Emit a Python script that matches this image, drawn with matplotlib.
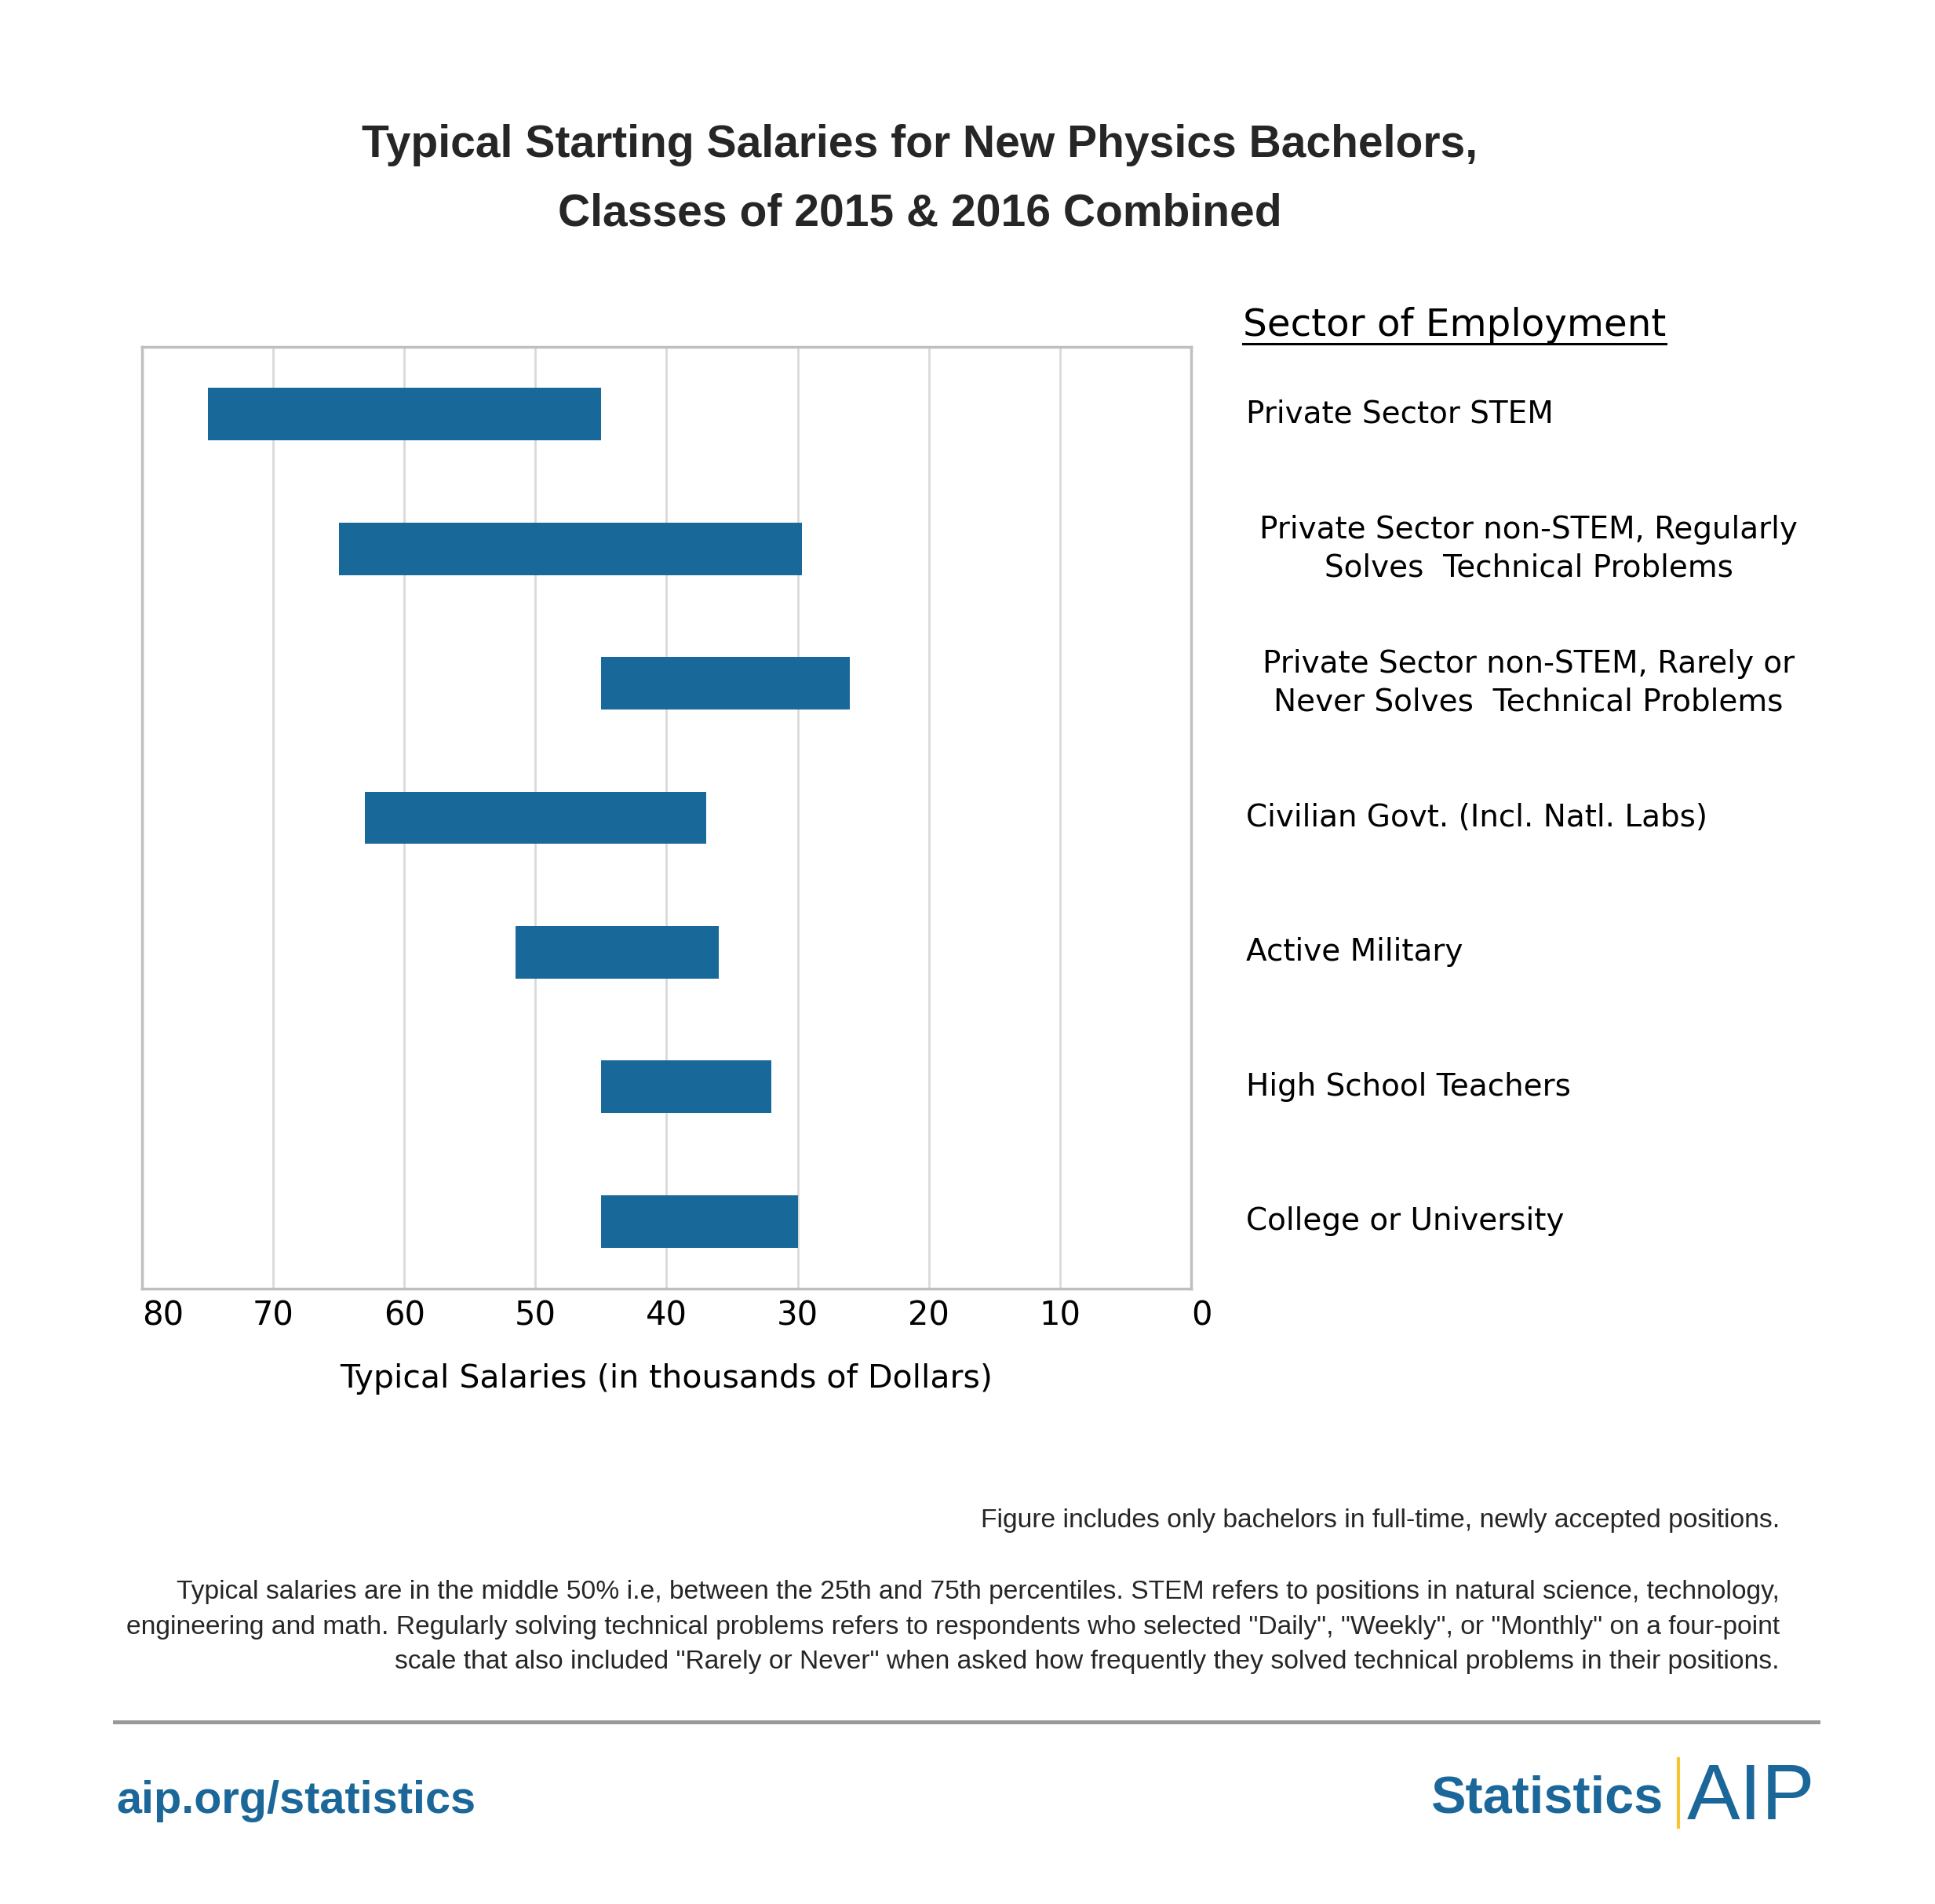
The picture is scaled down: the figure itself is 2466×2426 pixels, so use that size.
import matplotlib
matplotlib.use('Agg')
import matplotlib.pyplot as plt
from matplotlib.lines import Line2D
import matplotlib.transforms as mtransforms

W, H = 2466, 2426

# data: typical salary range (25th - 75th percentile), thousands of dollars
sectors = [
    'Private Sector STEM',
    'Private Sector non-STEM, Regularly\nSolves  Technical Problems',
    'Private Sector non-STEM, Rarely or\nNever Solves  Technical Problems',
    'Civilian Govt. (Incl. Natl. Labs)',
    'Active Military',
    'High School Teachers',
    'College or University',
]
low = [45, 29.7, 26, 37, 36, 32, 30]
high = [75, 65, 45, 63, 51.5, 45, 45]
x_ticks = [0, 10, 20, 30, 40, 50, 60, 70, 80]

footnotes = [
    'Figure includes only bachelors in full-time, newly accepted positions.',
    'Typical salaries are in the middle 50% i.e, between the 25th and 75th percentiles. STEM refers to positions in natural science, technology,',
    'engineering and math. Regularly solving technical problems refers to respondents who selected "Daily", "Weekly", or "Monthly" on a four-point',
    'scale that also included "Rarely or Never" when asked how frequently they solved technical problems in their positions.',
]

BAR = '#18699A'
BLUE = '#1B6799'
NARROW = ['Liberation Sans Narrow', 'Liberation Sans', 'DejaVu Sans']


def fx(px):
    return px / W


def fy(py):
    return 1 - py / H


fig = plt.figure(figsize=(W / 100, H / 100), dpi=100)
fig.patch.set_facecolor('white')

ax = fig.add_axes([fx(181), fy(1642), fx(1518) - fx(181), fy(442) - fy(1642)])
ypos = list(range(len(sectors)))
widths = [h - l for l, h in zip(low, high)]
ax.barh(ypos, widths, left=low, height=0.39, color=BAR, zorder=3)

ax.set_xlim(80, 0)
ax.set_ylim(len(sectors) - 0.5, -0.5)
ax.set_xticks(x_ticks)
ax.set_xticklabels([str(t) for t in x_ticks], fontsize=30, family='DejaVu Sans')
ax.set_yticks([])
ax.tick_params(axis='x', length=0, pad=10)
for lab in ax.get_xticklabels():
    if lab.get_text() in ('0', '80'):
        lab.set_horizontalalignment('left')
ax.grid(axis='x', color='#D9D9D9', linewidth=2, zorder=0)
for sp in ax.spines.values():
    sp.set_color('#BFBFBF')
    sp.set_linewidth(2.5)

ax.set_xlabel('Typical Salaries (in thousands of Dollars)', fontsize=29.5,
              labelpad=28, family='DejaVu Sans')

# category labels right of the plot, aligned to the bars
blend = mtransforms.blended_transform_factory(fig.transFigure, ax.transData)
for i, name in enumerate(sectors):
    if '\n' in name:
        fig.text(fx(1948), i, name, transform=blend, ha='center', va='center',
                 fontsize=28, linespacing=1.35, family='DejaVu Sans')
    else:
        fig.text(fx(1588), i, name, transform=blend, ha='left', va='center',
                 fontsize=28, family='DejaVu Sans')

hdr = fig.text(fx(1584), fy(428), 'Sector of Employment', ha='left',
               va='baseline', fontsize=34.8, family='DejaVu Sans')

# title
fig.text(fx(1172), fy(200), 'Typical Starting Salaries for New Physics Bachelors,',
         ha='center', va='baseline', fontsize=41, fontweight='bold',
         family=NARROW, color='#262626')
fig.text(fx(1172), fy(288), 'Classes of 2015 & 2016 Combined',
         ha='center', va='baseline', fontsize=41, fontweight='bold',
         family=NARROW, color='#262626')

# footnotes
note_y = [1946, 2037, 2082, 2126]
for txt, yy in zip(footnotes, note_y):
    fig.text(fx(2268), fy(yy), txt, ha='right', va='baseline', fontsize=24.2,
             family=NARROW, color='#262626')

# footer
fig.add_artist(Line2D([fx(146), fx(2317)], [fy(2194), fy(2194)],
                      transform=fig.transFigure, color='#999999', linewidth=3.6))
fig.text(fx(148), fy(2310), 'aip.org/statistics', ha='left', va='baseline',
         fontsize=41.5, fontweight='bold', family=NARROW, color=BLUE)
fig.text(fx(2119), fy(2309), 'Statistics', ha='right', va='baseline',
         fontsize=48, fontweight='bold', family=NARROW, color=BLUE)
fig.add_artist(Line2D([fx(2139), fx(2139)], [fy(2241), fy(2328)],
                      transform=fig.transFigure, color='#F6C530', linewidth=3))
fig.text(fx(2313), fy(2318), 'AIP', ha='right', va='baseline',
         fontsize=73, family=NARROW, color=BLUE)

# underline the header
fig.canvas.draw()
bb = hdr.get_window_extent().transformed(fig.transFigure.inverted())
fig.add_artist(Line2D([bb.x0, bb.x1], [fy(438), fy(438)],
                      transform=fig.transFigure, color='black', linewidth=2.2))

fig.savefig('out.png', dpi=100, facecolor='white')
